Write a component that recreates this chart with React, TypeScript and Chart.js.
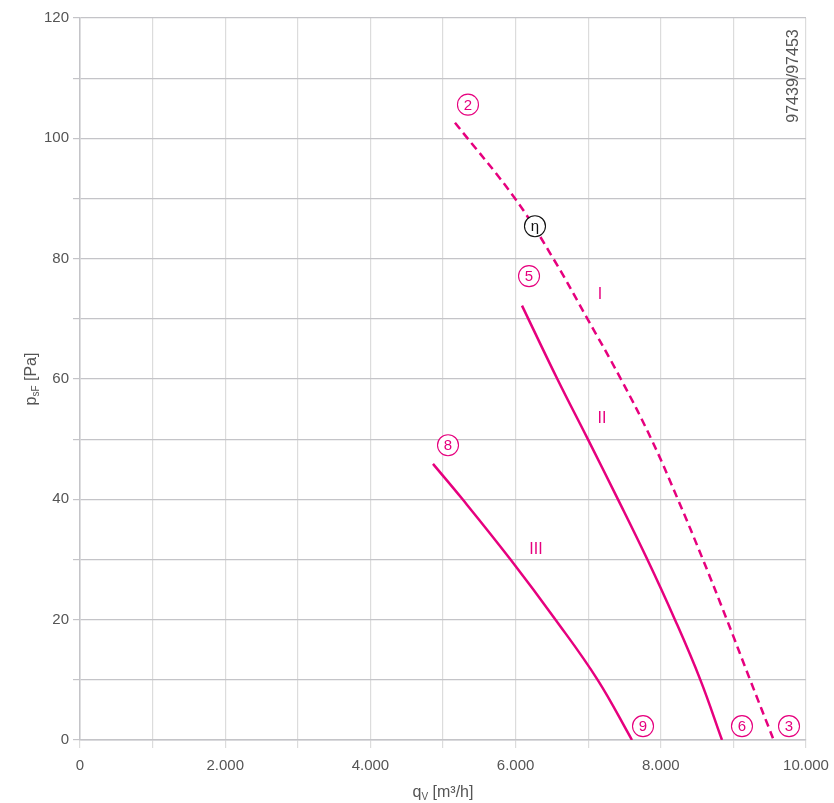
import React, { useEffect, useRef } from "react";
import { Chart, registerables } from "chart.js";

Chart.register(...registerables);

// Curve I (dashed)
const curveIQ = [5165, 5992, 6520, 6990, 7450, 7870, 8235, 8580, 8910, 9230, 9545];
const curveIP = [102.6, 90, 80, 70, 60, 50, 40, 30, 20, 10, 0.3];
// Curve II
const curveIIQ = [6088, 6575, 6995, 7410, 7815, 8195, 8545, 8843];
const curveIIP = [72.2, 60, 50, 40, 30, 20, 10, 0];
// Curve III
const curveIIIQ = [4862, 5270, 5930, 6550, 7130, 7603];
const curveIIIP = [45.9, 40, 30, 20, 10, 0];

const xTicksMax = 10000;
const yTicksMax = 120;

// annotation labels
const labelTexts = ["2", "η", "5", "I", "II", "8", "III", "9", "6", "3"];
const labelQ = [5344, 6267, 6185, 7163, 7190, 5069, 6281, 7755, 9118, 9766];
const labelP = [105.6, 85.4, 77.1, 74.0, 53.5, 49.0, 31.7, 2.3, 2.3, 2.3];
const labelCircled = [true, true, true, false, false, true, false, true, true, true];
const labelBlack = [false, true, false, false, false, false, false, false, false, false];

const drawingNumber = "97439/97453";

const MAGENTA = "#e6007e";
const FONT = "'Liberation Sans', Arial, sans-serif";

function toPts(q: number[], p: number[]) {
  return q.map((v, i) => ({ x: v, y: p[i] }));
}

const fmt = (v: number) => {
  if (v === 0) return "0";
  const s = String(Math.round(v));
  return s.replace(/\B(?=(\d{3})+(?!\d))/g, ".");
};

const overlayPlugin = {
  id: "overlay",
  afterDraw(chart: any) {
    const ctx = chart.ctx as CanvasRenderingContext2D;
    const xs = chart.scales.x;
    const ys = chart.scales.y;
    const area = chart.chartArea;
    ctx.save();
    for (let i = 0; i < labelTexts.length; i++) {
      const px = xs.getPixelForValue(labelQ[i]);
      const py = ys.getPixelForValue(labelP[i]);
      const col = labelBlack[i] ? "#111" : MAGENTA;
      ctx.textAlign = "center";
      ctx.textBaseline = "middle";
      if (labelCircled[i]) {
        ctx.beginPath();
        ctx.arc(px, py, 10.5, 0, Math.PI * 2);
        ctx.strokeStyle = col;
        ctx.lineWidth = 1.1;
        ctx.fillStyle = "#fff";
        ctx.fill();
        ctx.stroke();
        ctx.fillStyle = col;
        ctx.font = `15px ${FONT}`;
        ctx.fillText(labelTexts[i], px, py + 1);
      } else {
        ctx.fillStyle = col;
        ctx.font = `16px ${FONT}`;
        ctx.fillText(labelTexts[i], px, py);
      }
    }
    // x axis title
    ctx.fillStyle = "#555";
    ctx.textBaseline = "alphabetic";
    ctx.textAlign = "left";
    const cx = (area.left + area.right) / 2;
    const ty = 797;
    const big = `16px ${FONT}`;
    const small = `10px ${FONT}`;
    ctx.font = big;
    const wq = ctx.measureText("q").width;
    ctx.font = small;
    const wv = ctx.measureText("V").width;
    ctx.font = big;
    const rest = " [m³/h]";
    const wr = ctx.measureText(rest).width;
    let sx = cx - (wq + wv + wr) / 2;
    ctx.fillText("q", sx, ty);
    sx += wq;
    ctx.font = small;
    ctx.fillText("V", sx, ty + 3);
    sx += wv;
    ctx.font = big;
    ctx.fillText(rest, sx, ty);

    // y axis title
    ctx.save();
    const cyy = (area.top + area.bottom) / 2;
    ctx.translate(36, cyy);
    ctx.rotate(-Math.PI / 2);
    ctx.font = big;
    const wp = ctx.measureText("p").width;
    ctx.font = small;
    const wsf = ctx.measureText("sF").width;
    ctx.font = big;
    const rest2 = " [Pa]";
    const wr2 = ctx.measureText(rest2).width;
    let sy = -(wp + wsf + wr2) / 2;
    ctx.fillText("p", sy, 0);
    sy += wp;
    ctx.font = small;
    ctx.fillText("sF", sy, 3);
    sy += wsf;
    ctx.font = big;
    ctx.fillText(rest2, sy, 0);
    ctx.restore();

    // drawing number
    ctx.save();
    ctx.translate(794, 76);
    ctx.rotate(-Math.PI / 2);
    ctx.font = `16px ${FONT}`;
    ctx.textAlign = "center";
    ctx.textBaseline = "middle";
    ctx.fillStyle = "#555";
    ctx.fillText(drawingNumber, 0, 0);
    ctx.restore();

    ctx.restore();
  },
};

export default function App() {
  const ref = useRef<HTMLCanvasElement | null>(null);
  useEffect(() => {
    if (!ref.current) return;
    const common = {
      borderColor: MAGENTA,
      borderWidth: 2.5,
      pointRadius: 0,
      tension: 0.4,
      fill: false,
    };
    const chart = new Chart(ref.current, {
      type: "line",
      data: {
        datasets: [
          { ...common, label: "I", data: toPts(curveIQ, curveIP), borderDash: [8, 5] },
          { ...common, label: "II", data: toPts(curveIIQ, curveIIP) },
          { ...common, label: "III", data: toPts(curveIIIQ, curveIIIP) },
        ],
      },
      options: {
        animation: false,
        responsive: false,
        maintainAspectRatio: false,
        layout: { padding: { left: 0, right: 28, top: 18, bottom: 0 } },
        plugins: {
          legend: { display: false },
          tooltip: { enabled: false },
          title: { display: false },
        },
        scales: {
          x: {
            type: "linear",
            min: 0,
            max: xTicksMax,
            afterFit: (s: any) => {
              s.height = 63;
              s.paddingLeft = 0;
              s.paddingRight = 0;
            },
            ticks: {
              stepSize: 1000,
              autoSkip: false,
              maxRotation: 0,
              padding: 9,
              color: "#555",
              font: { family: FONT, size: 15 },
              callback: (v: any) => (Number(v) % 2000 === 0 ? fmt(Number(v)) : ""),
            },
            grid: {
              color: "#dcdcdc",
              lineWidth: 1.2,
              tickLength: 8,
            },
            border: { color: "#c4c4c8", width: 1.5 },
          },
          y: {
            type: "linear",
            min: 0,
            max: yTicksMax,
            afterFit: (s: any) => {
              s.width = 80;
              s.paddingTop = 0;
              s.paddingBottom = 0;
            },
            ticks: {
              stepSize: 10,
              autoSkip: false,
              padding: 4,
              color: "#555",
              font: { family: FONT, size: 15 },
              callback: (v: any) => (Number(v) % 20 === 0 ? String(v) : ""),
            },
            grid: {
              color: "#c4c4c8",
              lineWidth: 1.2,
              tickLength: 7,
            },
            border: { color: "#c4c4c8", width: 1.5 },
          },
        },
      },
      plugins: [overlayPlugin],
    } as any);
    return () => chart.destroy();
  }, []);
  return (
    <div style={{ position: "fixed", left: 0, top: 0, width: 834, height: 803, background: "#fff" }}>
      <canvas ref={ref} width={834} height={803} style={{ width: 834, height: 803, display: "block" }} />
    </div>
  );
}
